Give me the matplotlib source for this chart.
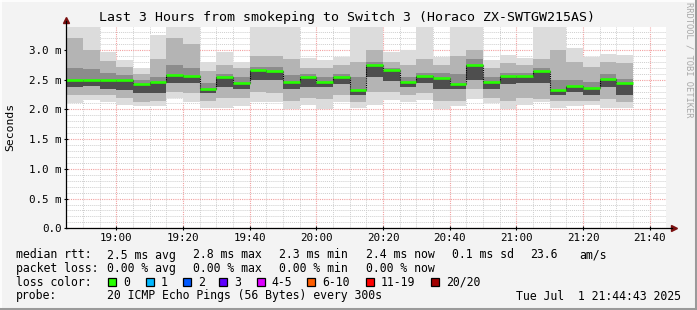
import numpy as np
import pandas as pd
import matplotlib
matplotlib.use("Agg")
import matplotlib.pyplot as plt
import matplotlib.dates as mdates
from matplotlib.patches import Rectangle
from matplotlib.lines import Line2D
from matplotlib.ticker import MultipleLocator

# 5 minute slots, 20 pings each, values in ms
slot_start = pd.date_range("2025-07-01 18:45", periods=34, freq="5min")

rtt_max = [3.45, 3.45, 2.97, 2.83, 2.70, 3.26, 3.45, 3.45, 2.80, 2.97, 2.80, 3.45,
           3.45, 3.45, 2.87, 2.83, 2.89, 3.45, 3.45, 2.97, 3.00, 3.45, 2.89, 3.45,
           3.45, 2.83, 2.92, 2.87, 3.45, 3.45, 3.03, 2.89, 2.94, 2.92]
rtt_p90 = [3.20, 3.00, 2.82, 2.72, 2.60, 2.85, 3.20, 3.10, 2.65, 2.75, 2.70, 2.90,
           2.90, 2.85, 2.70, 2.70, 2.75, 2.80, 3.00, 2.80, 2.75, 2.85, 2.75, 2.90,
           3.00, 2.70, 2.78, 2.75, 2.85, 3.00, 2.80, 2.72, 2.80, 2.78]
rtt_p75 = [2.70, 2.68, 2.62, 2.58, 2.50, 2.55, 2.75, 2.70, 2.45, 2.60, 2.55, 2.72,
           2.72, 2.58, 2.60, 2.55, 2.60, 2.55, 2.80, 2.70, 2.55, 2.62, 2.62, 2.60,
           2.85, 2.55, 2.62, 2.62, 2.70, 2.50, 2.50, 2.47, 2.60, 2.52]
rtt_median = [2.49, 2.50, 2.49, 2.50, 2.42, 2.46, 2.58, 2.56, 2.35, 2.55, 2.45, 2.66,
              2.65, 2.47, 2.55, 2.46, 2.55, 2.32, 2.74, 2.66, 2.47, 2.56, 2.53, 2.43,
              2.75, 2.47, 2.56, 2.56, 2.65, 2.33, 2.40, 2.36, 2.52, 2.45]
rtt_p25 = [2.38, 2.40, 2.35, 2.33, 2.27, 2.27, 2.45, 2.45, 2.28, 2.38, 2.35, 2.50,
           2.50, 2.35, 2.38, 2.38, 2.42, 2.25, 2.55, 2.48, 2.38, 2.45, 2.35, 2.35,
           2.50, 2.35, 2.42, 2.45, 2.45, 2.25, 2.30, 2.25, 2.38, 2.25]
rtt_p10 = [2.25, 2.25, 2.25, 2.20, 2.13, 2.14, 2.30, 2.28, 2.15, 2.20, 2.20, 2.30,
           2.28, 2.15, 2.20, 2.18, 2.25, 2.12, 2.30, 2.30, 2.25, 2.28, 2.15, 2.15,
           2.35, 2.20, 2.15, 2.20, 2.18, 2.15, 2.15, 2.14, 2.18, 2.12]
rtt_min = [2.11, 2.16, 2.12, 2.08, 2.05, 2.05, 2.20, 2.12, 2.03, 2.03, 2.06, 2.12,
           2.12, 2.00, 2.08, 2.00, 2.12, 2.02, 2.08, 2.16, 2.12, 2.16, 2.00, 2.05,
           2.18, 2.10, 2.00, 2.08, 2.12, 2.02, 2.05, 2.08, 2.02, 2.02]

ytick_vals = [0.0, 0.5, 1.0, 1.5, 2.0, 2.5, 3.0]
ytick_labels = ["0.0", "0.5 m", "1.0 m", "1.5 m", "2.0 m", "2.5 m", "3.0 m"]

title = "Last 3 Hours from smokeping to Switch 3 (Horaco ZX-SWTGW215AS)"
row_rtt = ["median rtt:", "2.5 ms avg", "2.8 ms max", "2.3 ms min",
           "2.4 ms now", "0.1 ms sd", "23.6", "am/s"]
row_loss = ["packet loss:", "0.00 % avg", "0.00 % max", "0.00 % min", "0.00 % now"]
loss_labels = ["0", "1", "2", "3", "4-5", "6-10", "11-19", "20/20"]
loss_colors = ["#26ff00", "#00b8ff", "#0059ff", "#5e00ff", "#dd00ff",
               "#ff5e00", "#ff0000", "#a10000"]
probe_text = "20 ICMP Echo Pings (56 Bytes) every 300s"
stamp = "Tue Jul  1 21:44:43 2025"

W, H = 697, 310
mono = "DejaVu Sans Mono"
fig = plt.figure(figsize=(W / 100, H / 100), dpi=100, facecolor="#f3f3f3")

def fx(px):
    return px / W

def fy(py):
    return 1 - py / H

ax = fig.add_axes([fx(66.3), fy(228.3), 600 / W, (228.3 - 27) / H])
ax.set_facecolor("white")

x = mdates.date2num(slot_start)
w = 5 / 1440
med = np.array(rtt_median)

def band(lo, hi, c):
    lo = np.array(lo); hi = np.array(hi)
    ax.bar(x, hi - lo, bottom=lo, width=w, align="edge", color=c, lw=0, zorder=2)

# smoke, lighter away from the median
band(rtt_min, rtt_max, "#dcdcdc")
band(rtt_p10, rtt_p90, "#b4b4b4")
band(rtt_p25, rtt_p75, "#8c8c8c")
band(rtt_p25, rtt_median, "#4e4e4e")

ax.vlines(x[1:], med[:-1], med[1:], colors="black", linestyles=(0, (1, 1)), lw=0.8, zorder=3)
ax.hlines(med, x, x + w, colors=loss_colors[0], lw=1.9, zorder=4)

t0 = mdates.date2num(pd.Timestamp("2025-07-01 18:45"))
ax.set_xlim(t0, t0 + 3 / 24)
ax.set_ylim(0, 3.387)
ax.xaxis.set_major_locator(mdates.MinuteLocator(byminute=[0, 20, 40]))
ax.xaxis.set_minor_locator(mdates.MinuteLocator(byminute=range(0, 60, 5)))
ax.xaxis.set_major_formatter(mdates.DateFormatter("%H:%M"))
ax.set_yticks(ytick_vals)
ax.set_yticklabels(ytick_labels)
ax.yaxis.set_minor_locator(MultipleLocator(0.1))

ax.grid(which="minor", color="#cfcfcf", ls=(0, (1, 1)), lw=0.7, zorder=1)
ax.grid(which="major", color="#f2a0a0", ls=(0, (1, 1)), lw=0.8, zorder=1)
ax.set_axisbelow(True)
for s in ax.spines.values():
    s.set_visible(False)
ax.tick_params(which="major", length=2.5, width=0.8, direction="inout", pad=2,
               labelsize=7.8, colors="black", labelfontfamily=mono)
ax.tick_params(which="minor", length=0)

# axis lines with arrows
ax.plot([0, 0], [0, 1.03], transform=ax.transAxes, color="black", lw=0.9, clip_on=False, zorder=5)
ax.plot([0, 1.01], [0, 0], transform=ax.transAxes, color="black", lw=0.9, clip_on=False, zorder=5)
ax.plot([0], [1.035], marker="^", ms=4.5, color="#7a1010", transform=ax.transAxes, clip_on=False)
ax.plot([1.012], [0], marker=">", ms=4.5, color="#7a1010", transform=ax.transAxes, clip_on=False)

fig.text(fx(347), fy(18), title, family=mono, fontsize=9.5, ha="center", va="center")
fig.text(fx(10), fy(127), "Seconds", family=mono, fontsize=8.2, rotation=90,
         ha="center", va="center")
fig.text(fx(689), fy(60), "RRDTOOL / TOBI OETIKER", family=mono, fontsize=6.3,
         rotation=-90, ha="center", va="center", color="#a8a8a8")

# legend rows
rtt_x = [16, 107, 193, 279, 365.7, 451.7, 530, 579]
for s, px in zip(row_rtt, rtt_x):
    fig.text(fx(px), fy(255), s, family=mono, fontsize=8.3, va="center")
for s, px in zip(row_loss, rtt_x):
    fig.text(fx(px), fy(268.5), s, family=mono, fontsize=8.3, va="center")
fig.text(fx(16), fy(282.3), "loss color:", family=mono, fontsize=8.3, va="center")
sq_x = [108, 145.7, 182.7, 219, 256.7, 307, 365.7, 431]
for s, c, px in zip(loss_labels, loss_colors, sq_x):
    fig.patches.append(Rectangle((fx(px), fy(286)), 8 / W, 8 / H, transform=fig.transFigure,
                                 facecolor=c, edgecolor="black", lw=0.9))
    fig.text(fx(px + 15), fy(282.3), s, family=mono, fontsize=8.3, va="center")
fig.text(fx(16), fy(296), "probe:", family=mono, fontsize=8.3, va="center")
fig.text(fx(107), fy(296), probe_text, family=mono, fontsize=8.3, va="center")
fig.text(fx(681), fy(296), stamp, family=mono, fontsize=8.3, va="center", ha="right")

# frame shading
fig.add_artist(Line2D([0, 1], [fy(0.5), fy(0.5)], color="white", lw=1.2))
fig.add_artist(Line2D([fx(0.5), fx(0.5)], [0, 1], color="white", lw=1.2))
fig.add_artist(Line2D([fx(695.5), fx(695.5)], [0, 1], color="#9a9a9a", lw=2.2))
fig.add_artist(Line2D([0, 1], [fy(308.5), fy(308.5)], color="#9a9a9a", lw=2.2))

fig.savefig("out.png", dpi=100, facecolor=fig.get_facecolor())
